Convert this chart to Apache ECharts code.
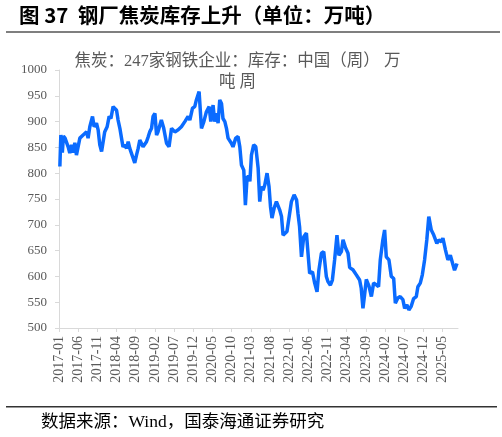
<!DOCTYPE html>
<html>
<head>
<meta charset="utf-8">
<script src="https://cdn.jsdelivr.net/npm/echarts@6/dist/echarts.min.js"></script>
<style>
html,body{margin:0;padding:0;background:#fff;}
#c{width:502px;height:437px;}
</style>
</head>
<body>
<div id="c"></div>
<script>
const heading = '图 37  钢厂焦炭库存上升（单位：万吨）';
const seriesName = '焦炭：247家钢铁企业：库存：中国（周） 万\n吨 周';
const sourceText = '数据来源：Wind，国泰海通证券研究';

const dates = [
'2017-01-08','2017-01-16','2017-01-28','2017-02-05','2017-02-17','2017-03-13','2017-03-26','2017-04-09','2017-04-22','2017-05-05',
'2017-05-18','2017-06-01','2017-06-14','2017-07-10','2017-08-07','2017-08-19','2017-09-02','2017-09-23','2017-10-06','2017-10-25',
'2017-11-07','2017-11-20','2017-12-04','2017-12-16','2017-12-29','2018-01-18','2018-02-03','2018-02-16','2018-03-04','2018-03-17',
'2018-04-01','2018-04-13','2018-04-27','2018-05-10','2018-05-22','2018-06-06','2018-06-19','2018-07-02','2018-07-15','2018-07-28',
'2018-08-11','2018-08-24','2018-09-07','2018-09-20','2018-10-03','2018-10-16','2018-10-29','2018-11-12','2018-11-25','2018-12-08',
'2018-12-21','2019-01-05','2019-01-17','2019-02-01','2019-02-13','2019-02-23','2019-03-22','2019-04-10','2019-05-02','2019-05-22',
'2019-06-11','2019-07-07','2019-08-03','2019-08-29','2019-09-25','2019-10-21','2019-11-04','2019-11-25','2019-12-13','2019-12-26',
'2020-01-17','2020-02-05','2020-02-23','2020-03-14','2020-04-05','2020-04-18','2020-05-06','2020-05-19','2020-06-03','2020-06-15',
'2020-06-28','2020-07-12','2020-07-24','2020-08-08','2020-08-21','2020-09-03','2020-09-29','2020-10-12','2020-11-03','2020-11-21',
'2020-12-05','2020-12-18','2021-01-06','2021-01-19','2021-02-02','2021-02-17','2021-02-22','2021-03-06','2021-03-24','2021-04-10',
'2021-04-28','2021-05-11','2021-05-24','2021-06-07','2021-06-20','2021-07-08','2021-07-24','2021-08-05','2021-08-17','2021-09-03',
'2021-09-21','2021-10-17','2021-11-01','2021-11-13','2021-11-26','2021-12-14','2021-12-30','2022-01-19','2022-02-09','2022-02-27',
'2022-03-10','2022-03-23','2022-04-07','2022-04-25','2022-05-16','2022-06-11','2022-07-03','2022-07-21','2022-08-09','2022-08-24',
'2022-09-13','2022-10-01','2022-10-22','2022-11-04','2022-11-23','2022-12-09','2022-12-27','2023-01-15','2023-01-31','2023-02-18',
'2023-03-02','2023-03-23','2023-04-11','2023-04-24','2023-05-20','2023-06-16','2023-07-12','2023-07-25','2023-08-08','2023-08-21',
'2023-09-04','2023-09-25','2023-10-14','2023-11-01','2023-11-22','2023-12-10','2023-12-24','2024-01-14','2024-01-28','2024-02-10',
'2024-03-01','2024-03-20','2024-04-08','2024-04-21','2024-05-11','2024-05-30','2024-06-20','2024-07-04','2024-07-22','2024-08-07',
'2024-08-26','2024-09-14','2024-10-05','2024-10-18','2024-11-06','2024-11-22','2024-12-10','2024-12-28','2025-01-13','2025-02-02',
'2025-02-20','2025-03-06','2025-03-16','2025-04-02','2025-04-21','2025-05-03','2025-05-24','2025-06-12','2025-07-01','2025-07-16',
'2025-08-04','2025-08-15','2025-08-24'
];
const values = [
813,874,840,872,868,851,839,855,840,859,
835,838,868,874,880,868,890,910,890,897,
884,855,842,860,880,890,910,906,929,929,
922,903,887,868,851,855,848,861,848,839,
829,820,835,848,864,858,851,851,861,870,
880,887,910,916,874,880,903,887,858,851,
887,880,884,890,900,910,903,926,929,942,
958,887,900,919,929,900,932,900,916,897,
942,935,906,900,887,868,858,851,868,871,
851,816,806,738,793,793,784,835,855,851,
810,745,774,767,777,800,774,735,713,732,
745,729,716,680,677,687,690,745,758,748,
722,696,638,677,684,606,609,587,570,612,
645,648,600,590,583,593,632,680,641,648,
671,655,645,617,613,603,593,577,538,564,
594,581,561,587,584,580,632,671,690,638,
632,600,596,548,558,561,555,538,545,535,
542,557,561,580,587,603,632,671,716,690,
680,677,664,671,667,674,651,632,641,638,
612,619,625
];
const yTicks = {min: 500, max: 1000, step: 50};
const xStart = {year: 2017, month: 1};
const xLabelEveryMonths = 5;

function monthIndex(s) {
  const p = s.split('-').map(Number);
  const dim = new Date(p[0], p[1], 0).getDate();
  return (p[0] - xStart.year) * 12 + (p[1] - xStart.month) + (p[2] - 1) / dim;
}
function monthLabel(v) {
  const k = Math.round(v);
  const y = xStart.year + Math.floor(k / 12);
  const m = (k % 12) + 1;
  return y + '-' + (m < 10 ? '0' + m : m);
}
const lineData = dates.map((d, i) => [monthIndex(d), values[i]]);

const chart = echarts.init(document.getElementById('c'), null, {renderer: 'canvas'});
const serif = '"Liberation Serif", "Noto Sans CJK SC", serif';
chart.setOption({
  animation: false,
  backgroundColor: '#fff',
  grid: {left: 59, right: 44, top: 70, bottom: 109, containLabel: false},
  xAxis: {
    type: 'value', min: 0, max: 104, interval: xLabelEveryMonths,
    splitLine: {show: false},
    axisLine: {show: true, lineStyle: {color: '#d9d9d9', width: 1}},
    axisTick: {show: true, length: 4, lineStyle: {color: '#d9d9d9'}},
    axisLabel: {
      rotate: 90, margin: 8, color: '#595959', fontFamily: serif, fontSize: 14,
      showMaxLabel: false,
      formatter: function (v) { return (Math.round(v) % xLabelEveryMonths === 0) ? monthLabel(v) : ''; }
    }
  },
  yAxis: {
    type: 'value', min: yTicks.min, max: yTicks.max, interval: yTicks.step,
    splitLine: {show: false},
    axisLine: {show: true, lineStyle: {color: '#d9d9d9', width: 1}},
    axisTick: {show: true, length: 4, lineStyle: {color: '#d9d9d9'}},
    axisLabel: {margin: 12, color: '#595959', fontFamily: serif, fontSize: 13,
      formatter: function (v) { return String(v); }}
  },
  series: [{
    type: 'line', name: seriesName, data: lineData, showSymbol: false,
    lineStyle: {color: '#0A6BFF', width: 3.5}, itemStyle: {color: '#0A6BFF'}
  }],
  graphic: [
    {type: 'text', left: 19, top: 5, style: {text: heading, fontFamily: '"Noto Sans CJK SC", sans-serif', fontWeight: 'bold', fontSize: 20.5, fill: '#000'}},
    {type: 'rect', shape: {x: 6, y: 31, width: 494, height: 2}, style: {fill: '#7f7f7f'}},
    {type: 'text', x: 237.5, y: 51, style: {text: seriesName, textAlign: 'center', fontFamily: serif, fontSize: 16.5, lineHeight: 21, fill: '#595959'}},
    {type: 'rect', shape: {x: 6, y: 406, width: 491, height: 1.5}, style: {fill: '#333'}},
    {type: 'text', left: 41, top: 414, style: {text: sourceText, fontFamily: serif, fontSize: 17.5, fill: '#000'}}
  ]
});
</script>
</body>
</html>
